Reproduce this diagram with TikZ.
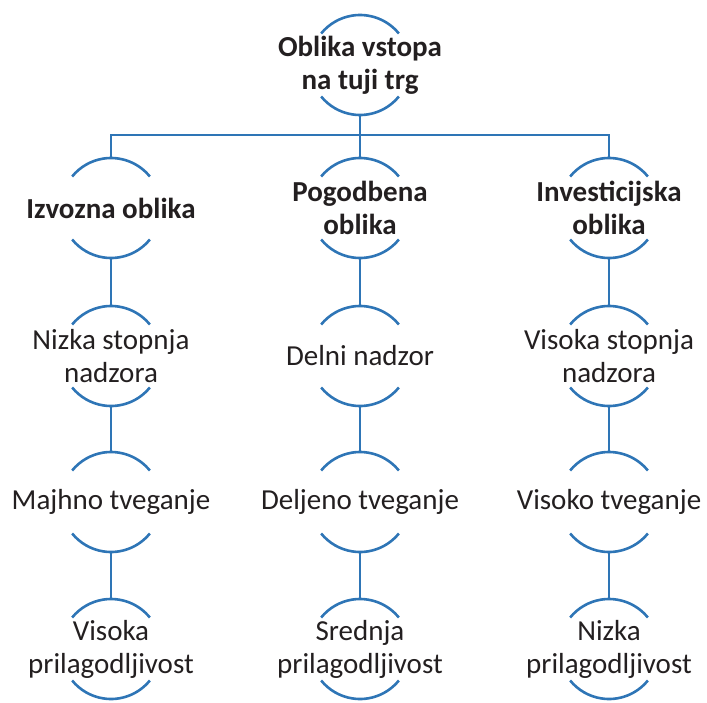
\documentclass[tikz,border=0pt]{standalone}
\usepackage{fontspec}
\setmainfont{Carlito}
\usetikzlibrary{calc}
\definecolor{lineblue}{HTML}{2E75B6}
\definecolor{txtgray}{HTML}{231F20}
\tikzset{
  ring/.style={circle, minimum size=100pt, inner sep=0pt, outer sep=0pt},
  txt/.style={align=center, text=txtgray, font=\fontsize{29}{33}\selectfont, inner sep=0pt},
  btxt/.style={txt, font=\fontsize{29}{33}\selectfont\bfseries},
  conn/.style={draw=lineblue, line width=2.6pt},
}
\newcommand{\arcsof}[1]{%
  \draw[conn] (#1.39) arc[start angle=39, end angle=141, radius=50pt];
  \draw[conn] (#1.-39) arc[start angle=-39, end angle=-141, radius=50pt];
}
\begin{document}
\begin{tikzpicture}[x=1pt,y=1pt]
\useasboundingbox (0,0) rectangle (707,-702);
% rings
\node[ring] (r0) at (360,-65) {};
\node[ring] (a1) at (111,-208) {};
\node[ring] (b1) at (360,-208) {};
\node[ring] (c1) at (609,-208) {};
\node[ring] (a2) at (111,-356) {};
\node[ring] (b2) at (360,-356) {};
\node[ring] (c2) at (609,-356) {};
\node[ring] (a3) at (111,-502) {};
\node[ring] (b3) at (360,-502) {};
\node[ring] (c3) at (609,-502) {};
\node[ring] (a4) at (111,-649) {};
\node[ring] (b4) at (360,-649) {};
\node[ring] (c4) at (609,-649) {};
% texts
\node[btxt] (t0) at (r0) {Oblika vstopa\\na tuji trg};
\node[btxt] (ta1) at (a1) {Izvozna oblika};
\node[btxt] (tb1) at (b1) {Pogodbena\\oblika};
\node[btxt] (tc1) at (c1) {Investicijska\\oblika};
\node[txt] (ta2) at (a2) {Nizka stopnja\\nadzora};
\node[txt] (tb2) at (b2) {Delni nadzor};
\node[txt] (tc2) at (c2) {Visoka stopnja\\nadzora};
\node[txt] (ta3) at (a3) {Majhno tveganje};
\node[txt] (tb3) at (b3) {Deljeno tveganje};
\node[txt] (tc3) at (c3) {Visoko tveganje};
\node[txt] (ta4) at (a4) {Visoka\\prilagodljivost};
\node[txt] (tb4) at (b4) {Srednja\\prilagodljivost};
\node[txt] (tc4) at (c4) {Nizka\\prilagodljivost};
% arcs
\foreach \n in {r0,a1,b1,c1,a2,b2,c2,a3,b3,c3,a4,b4,c4} {\arcsof{\n}}
% connectors
\coordinate (j) at ($(r0.south)+(0,-20)$);
\draw[conn] (r0.south) -- (b1.north);
\draw[conn] (a1.north) |- (c1.north |- j) -- (c1.north);
\draw[conn] (a1.south) -- (a2.north);
\draw[conn] (a2.south) -- (a3.north);
\draw[conn] (a3.south) -- (a4.north);
\draw[conn] (b1.south) -- (b2.north);
\draw[conn] (b2.south) -- (b3.north);
\draw[conn] (b3.south) -- (b4.north);
\draw[conn] (c1.south) -- (c2.north);
\draw[conn] (c2.south) -- (c3.north);
\draw[conn] (c3.south) -- (c4.north);
\end{tikzpicture}
\end{document}
